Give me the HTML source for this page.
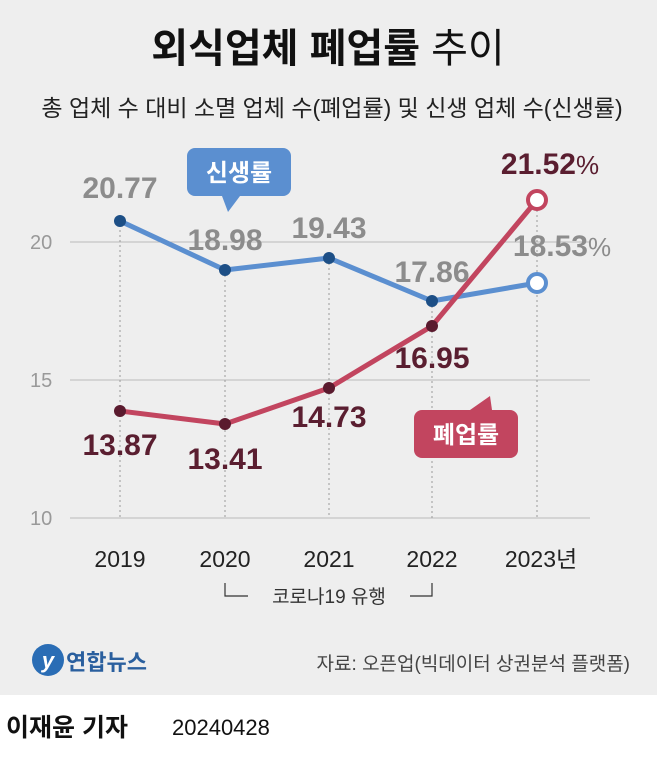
<!DOCTYPE html>
<html><head><meta charset="utf-8"><style>
body{margin:0;width:657px;height:771px;background:#fff;font-family:"Liberation Sans","Noto Sans CJK KR",sans-serif;overflow:hidden}
</style></head><body>
<svg width="657" height="771" xmlns="http://www.w3.org/2000/svg" font-family="Liberation Sans, Noto Sans CJK KR, sans-serif">
<rect x="0" y="0" width="657" height="695" fill="#eeeeee"/>
<text x="328" y="62" text-anchor="middle" font-size="40" font-weight="bold" fill="#111">외식업체 폐업률 <tspan font-weight="normal">추이</tspan></text>
<text x="332" y="116" text-anchor="middle" font-size="23" fill="#222">총 업체 수 대비 소멸 업체 수(폐업률) 및 신생 업체 수(신생률)</text>
<g stroke="#bbb" stroke-width="1">
<line x1="70" y1="242" x2="590" y2="242"/><line x1="70" y1="380" x2="590" y2="380"/><line x1="70" y1="518" x2="590" y2="518"/>
</g>
<g stroke="#999" stroke-width="1" stroke-dasharray="2,3">
<line x1="120" y1="220" x2="120" y2="518"/><line x1="225" y1="270" x2="225" y2="518"/><line x1="329" y1="258" x2="329" y2="518"/><line x1="432" y1="301" x2="432" y2="518"/><line x1="537" y1="200" x2="537" y2="518"/>
</g>
<g font-size="20" fill="#999"><text x="30" y="249">20</text><text x="30" y="387">15</text><text x="30" y="525">10</text></g>
<polyline points="120,221 225,270 329,258 432,301 537,283" fill="none" stroke="#5b8fd0" stroke-width="5" stroke-linejoin="round"/>
<polyline points="120,411 225,424 329,388 432,326 537,200" fill="none" stroke="#c2455f" stroke-width="5" stroke-linejoin="round"/>
<g fill="#1d4f86"><circle cx="120" cy="221" r="6"/><circle cx="225" cy="270" r="6"/><circle cx="329" cy="258" r="6"/><circle cx="432" cy="301" r="6"/></g>
<circle cx="537" cy="283" r="9" fill="#fff" stroke="#5b8fd0" stroke-width="4"/>
<g fill="#5a1a2e"><circle cx="120" cy="411" r="6"/><circle cx="225" cy="424" r="6"/><circle cx="329" cy="388" r="6"/><circle cx="432" cy="326" r="6"/></g>
<circle cx="537" cy="200" r="9" fill="#fff" stroke="#c2455f" stroke-width="4"/>
<g font-size="30" font-weight="bold" fill="#8c8c8c" text-anchor="middle">
<text x="120" y="198">20.77</text><text x="225" y="250">18.98</text><text x="329" y="238">19.43</text><text x="432" y="282">17.86</text><text x="562" y="256">18.53<tspan font-weight="normal" font-size="26">%</tspan></text>
</g>
<g font-size="30" font-weight="bold" fill="#5a1e30" text-anchor="middle">
<text x="120" y="455">13.87</text><text x="225" y="469">13.41</text><text x="329" y="427">14.73</text><text x="432" y="368">16.95</text><text x="550" y="174">21.52<tspan font-weight="normal" font-size="26">%</tspan></text>
</g>
<rect x="187" y="148" width="104" height="48" rx="8" fill="#5b8fd0"/>
<polygon points="222,196 240,196 228,212" fill="#5b8fd0"/>
<text x="239" y="181" text-anchor="middle" font-size="24" font-weight="bold" fill="#fff">신생률</text>
<rect x="414" y="410" width="104" height="48" rx="8" fill="#c2455f"/>
<polygon points="470,410 492,410 490,396" fill="#c2455f"/>
<text x="466" y="443" text-anchor="middle" font-size="24" font-weight="bold" fill="#fff">폐업률</text>
<g font-size="23" fill="#222" text-anchor="middle">
<text x="120" y="567">2019</text><text x="225" y="567">2020</text><text x="329" y="567">2021</text><text x="432" y="567">2022</text><text x="541" y="567">2023년</text>
</g>
<path d="M225,583 V596 H248 M410,596 H432 V583" fill="none" stroke="#333" stroke-width="1.2"/>
<text x="329" y="603" text-anchor="middle" font-size="19" fill="#333">코로나19 유행</text>
<circle cx="48" cy="660" r="16" fill="#2a6db5"/>
<text x="48" y="668" text-anchor="middle" font-size="22" font-style="italic" font-weight="bold" fill="#fff">y</text>
<text x="66" y="670" font-size="22" font-weight="bold" fill="#2a5f9e">연합뉴스</text>
<text x="630" y="670" text-anchor="end" font-size="19" fill="#444">자료: 오픈업(빅데이터 상권분석 플랫폼)</text>
<text x="6" y="736" font-size="25" font-weight="bold" fill="#111">이재윤 기자</text>
<text x="172" y="735" font-size="22" fill="#111">20240428</text>
</svg>
</body></html>
